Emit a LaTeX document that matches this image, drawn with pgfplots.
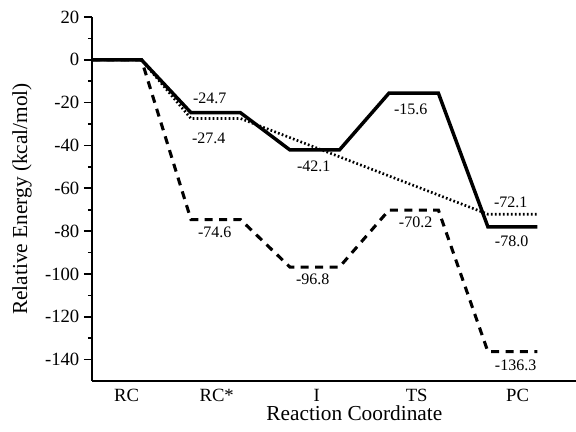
\documentclass[border=0pt]{standalone}
\usepackage{pgfplots}
\pgfplotsset{compat=1.18}
\usepackage{fontspec}
\setmainfont{Liberation Serif}

\tikzset{elabel/.style={font=\fontsize{12}{14}\selectfont, inner sep=0pt}}

\begin{document}
\begin{tikzpicture}
\begin{axis}[
  at={(0,0)}, anchor=south west,
  scale only axis,
  width=363pt, height=273pt,
  xmin=-0.25, xmax=4.64,
  ymin=-150, ymax=20,
  axis x line=bottom, axis y line=left,
  axis line style={line width=1.5pt, -},
  xtick={0.1,1.01,2.02,3.03,4.05},
  xticklabels={RC,RC*,I,TS,PC},
  x tick style={draw=none},
  xticklabel style={yshift=3.5pt},
  ytick={-140,-120,...,20},
  minor y tick num=1,
  tick align=outside,
  major tick length=6pt, minor tick length=3pt,
  y tick style={line width=1.2pt, black},
  tick label style={font=\fontsize{14}{16}\selectfont},
  /pgf/number format/assume math mode=true,
  xlabel={Reaction Coordinate},
  ylabel={Relative Energy (kcal/mol)},
  label style={font=\fontsize{16}{18}\selectfont},
  xlabel style={at={(axis description cs:0.542,0)}, anchor=center, yshift=-24pt},
  ylabel style={at={(axis description cs:-0.1446,0.5)}, anchor=center},
  clip=false,
]
% dashed pathway
\addplot[black, line width=2.3pt, dash pattern=on 6pt off 4.8pt] coordinates {
  (-0.25,0) (0.25,0) (0.75,-74.6) (1.25,-74.6) (1.75,-96.8) (2.25,-96.8)
  (2.75,-70.2) (3.25,-70.2) (3.75,-136.3) (4.25,-136.3)};
% dotted pathway
\addplot[black, line width=2pt, dash pattern=on 1.3pt off 1.7pt] coordinates {
  (-0.25,0) (0.25,0) (0.75,-27.4) (1.25,-27.4) (3.75,-72.1) (4.25,-72.1)};
% solid pathway
\addplot[black, line width=2.6pt] coordinates {
  (-0.25,0) (0.25,0) (0.75,-24.7) (1.25,-24.7) (1.75,-42.1) (2.25,-42.1)
  (2.75,-15.6) (3.25,-15.6) (3.75,-78.0) (4.25,-78.0)};

% energy labels
\node[elabel, yshift=11pt]    at (axis cs:0.94,-24.7)  {-24.7};
\node[elabel, yshift=-15pt]   at (axis cs:0.93,-27.4)  {-27.4};
\node[elabel, yshift=-12.4pt] at (axis cs:1.99,-42.1)  {-42.1};
\node[elabel, yshift=-12.4pt] at (axis cs:2.97,-15.6)  {-15.6};
\node[elabel, yshift=9pt]     at (axis cs:3.98,-72.1)  {-72.1};
\node[elabel, yshift=-10.7pt] at (axis cs:3.99,-78.0)  {-78.0};
\node[elabel, yshift=-9.5pt]  at (axis cs:0.99,-74.6)  {-74.6};
\node[elabel, yshift=-9pt]    at (axis cs:1.98,-96.8)  {-96.8};
\node[elabel, yshift=-9pt]    at (axis cs:3.02,-70.2)  {-70.2};
\node[elabel, yshift=-10.5pt] at (axis cs:4.03,-136.3) {-136.3};
\end{axis}
\pgfresetboundingbox
\path (-69pt,-38.25pt) rectangle (363pt,285.75pt);
\end{tikzpicture}
\end{document}
